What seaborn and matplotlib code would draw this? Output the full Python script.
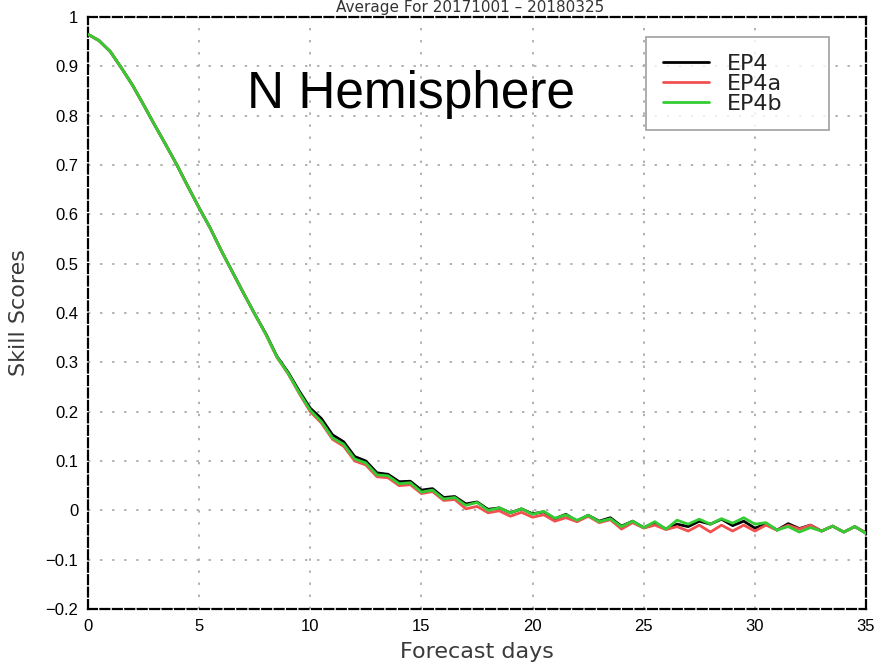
import matplotlib
matplotlib.use("Agg")
import matplotlib.pyplot as plt
from matplotlib.lines import Line2D
import numpy as np
import pandas as pd
import seaborn as sns

# Forecast lead time in days (12-hourly steps)
days = [i * 0.5 for i in range(71)]

ep4 = [0.965, 0.952, 0.930, 0.897, 0.862, 0.822, 0.781, 0.741, 0.700, 0.656,
       0.613, 0.572, 0.526, 0.483, 0.440, 0.398, 0.358, 0.312, 0.280, 0.242,
       0.207, 0.186, 0.153, 0.139, 0.109, 0.100, 0.076, 0.073, 0.058, 0.059,
       0.041, 0.044, 0.026, 0.028, 0.013, 0.017, 0.002, 0.005, -0.005, 0.003,
       -0.007, -0.003, -0.017, -0.008, -0.022, -0.010, -0.022, -0.015, -0.032, -0.022,
       -0.035, -0.026, -0.038, -0.028, -0.033, -0.022, -0.028, -0.018, -0.031, -0.022,
       -0.036, -0.028, -0.040, -0.027, -0.037, -0.030, -0.042, -0.032, -0.044, -0.033,
       -0.046]

ep4a = [0.965, 0.952, 0.930, 0.897, 0.862, 0.822, 0.781, 0.741, 0.700, 0.656,
        0.613, 0.572, 0.526, 0.483, 0.440, 0.398, 0.357, 0.310, 0.277, 0.237,
        0.200, 0.177, 0.144, 0.130, 0.100, 0.092, 0.068, 0.066, 0.050, 0.052,
        0.034, 0.038, 0.020, 0.022, 0.003, 0.008, -0.005, -0.001, -0.012, -0.004,
        -0.014, -0.009, -0.022, -0.015, -0.023, -0.012, -0.025, -0.019, -0.038, -0.025,
        -0.036, -0.030, -0.039, -0.033, -0.042, -0.030, -0.044, -0.030, -0.042, -0.030,
        -0.042, -0.030, -0.040, -0.030, -0.038, -0.030, -0.042, -0.032, -0.044, -0.033,
        -0.046]

ep4b = [0.965, 0.952, 0.930, 0.897, 0.862, 0.822, 0.781, 0.741, 0.700, 0.656,
        0.613, 0.572, 0.526, 0.483, 0.440, 0.398, 0.357, 0.311, 0.278, 0.239,
        0.203, 0.180, 0.147, 0.134, 0.104, 0.096, 0.072, 0.070, 0.054, 0.056,
        0.037, 0.041, 0.023, 0.026, 0.010, 0.016, 0.000, 0.005, -0.005, 0.003,
        -0.008, -0.002, -0.016, -0.009, -0.020, -0.010, -0.023, -0.017, -0.033, -0.022,
        -0.035, -0.023, -0.038, -0.020, -0.028, -0.018, -0.028, -0.017, -0.026, -0.015,
        -0.028, -0.025, -0.040, -0.033, -0.044, -0.035, -0.042, -0.032, -0.044, -0.033,
        -0.047]

run_names = ["EP4", "EP4a", "EP4b"]
run_colors = ["#000000", "#f25050", "#33cc33"]

x_ticks = [0, 5, 10, 15, 20, 25, 30, 35]
y_ticks = [1.0, 0.9, 0.8, 0.7, 0.6, 0.5, 0.4, 0.3, 0.2, 0.1, 0.0, -0.1, -0.2]
y_tick_labels = ["1", "0.9", "0.8", "0.7", "0.6", "0.5", "0.4", "0.3", "0.2",
                 "0.1", "0", "\u22120.1", "\u22120.2"]

df = pd.DataFrame({
    "day": days * 3,
    "score": ep4 + ep4a + ep4b,
    "run": [run_names[0]] * len(days) + [run_names[1]] * len(days) + [run_names[2]] * len(days),
})

sns.set_style("white")
plt.rcParams["font.family"] = ["Liberation Sans", "DejaVu Sans"]

fig = plt.figure(figsize=(8.79, 6.68), dpi=100)
ax = fig.add_axes([88 / 879, 59 / 668, 778 / 879, 592 / 668])

sns.lineplot(data=df, x="day", y="score", hue="run", hue_order=run_names,
             palette=run_colors, linewidth=2.0, legend=False, ax=ax, zorder=3)

ax.set_xlim(0, 35)
ax.set_ylim(-0.2, 1.0)
ax.set_xticks(x_ticks)
ax.set_xticklabels([str(t) for t in x_ticks])
ax.set_yticks(y_ticks)
ax.set_yticklabels(y_tick_labels)
ax.tick_params(axis="both", direction="out", length=5, width=1.3, color="black",
               labelsize=12, labelcolor="black", pad=2)

ax.grid(True, color="#b0b0b0", linestyle=(0, (1.2, 5)), linewidth=1.4, zorder=1)
for spine in ax.spines.values():
    spine.set_visible(True)
    spine.set_color("black")
    spine.set_linewidth(1.6)
    spine.set_linestyle((0, (4, 1.6)))

ax.set_xlabel("Forecast days", fontsize=16, color="#3a3a3a",
              family=["DejaVu Sans"], labelpad=6)
ax.set_ylabel("Skill Scores", fontsize=16, color="#3a3a3a",
              family=["DejaVu Sans"], labelpad=12)

ax.text(7.15, 0.815, "N Hemisphere", fontsize=37, color="black",
        family=["Liberation Sans"], va="baseline", ha="left", zorder=4)

fig.text(0.535, 1.0, "Average For 20171001 \u2013 20180325", fontsize=11,
         color="#333333", family=["DejaVu Sans"], ha="center", va="top")

handles = [Line2D([0], [0], color=c, linewidth=2.0) for c in run_colors]
box_x0 = (646 - 88) / 778
box_y1 = (609 - 37) / 592
box_w = (829 - 646) / 778
leg = ax.legend(handles, run_names, loc="upper left",
                bbox_to_anchor=(box_x0, box_y1 - 0.2, box_w, 0.2), mode="expand",
                frameon=True, fancybox=False, edgecolor="#888888",
                handlelength=2.1, handletextpad=0.8,
                labelspacing=0.0, borderpad=0.75, borderaxespad=0,
                prop={"family": "DejaVu Sans", "size": 16})
leg.get_frame().set_linewidth(1.2)
leg.set_zorder(5)
for t in leg.get_texts():
    t.set_color("#222222")

fig.savefig("out.png", dpi=100)
